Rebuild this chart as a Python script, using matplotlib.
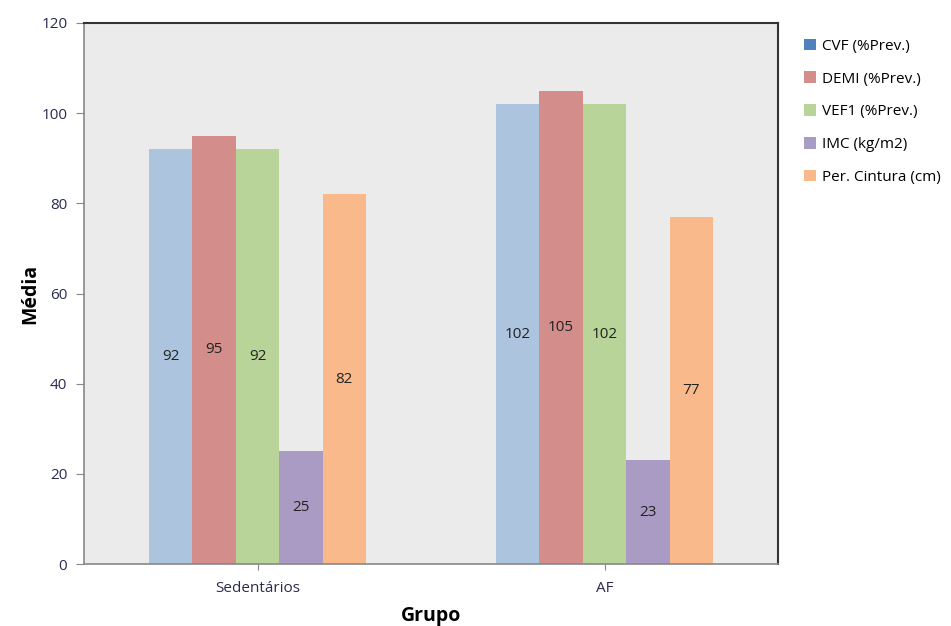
import matplotlib.pyplot as plt
import numpy as np
from matplotlib.patches import Patch

plt.rcParams['font.family'] = ['Open Sans', 'DejaVu Sans']

grupos = ["Sedentários", "AF"]
series = ["CVF (%Prev.)", "DEMI (%Prev.)", "VEF1 (%Prev.)", "IMC (kg/m2)", "Per. Cintura (cm)"]
cvf = [92, 102]
demi = [95, 105]
vef1 = [92, 102]
imc = [25, 23]
cintura = [82, 77]
valores = [cvf, demi, vef1, imc, cintura]

cores_barras = ["#adc4de", "#d38d8b", "#b9d498", "#a99bc4", "#f9b98b"]
cores_legenda = ["#4f81bd", "#d38d8b", "#b9d498", "#a99bc4", "#f9b98b"]

fig = plt.figure(figsize=(9.51, 6.26), dpi=100)
ax = fig.add_axes([84 / 951, 1 - 564 / 626, (778 - 84) / 951, (564 - 23) / 626])
ax.set_facecolor("#ebebeb")

x = np.arange(len(grupos))
w = 0.125
for i, (vals, cor) in enumerate(zip(valores, cores_barras)):
    pos = x + (i - 2) * w
    ax.bar(pos, vals, width=w, color=cor, edgecolor="none")
    for p, v in zip(pos, vals):
        ax.text(p, v / 2, str(v), ha="center", va="center", fontsize=11, color="#222222")

ax.set_xlim(-0.5, 1.5)
ax.set_ylim(0, 120)
ax.set_yticks(range(0, 121, 20))
ax.set_xticks(x)
ax.set_xticklabels(grupos)
ax.tick_params(axis="both", colors="#888888", labelcolor="#2b2b50", labelsize=11)
ax.tick_params(axis="y", length=6, pad=6)
ax.tick_params(axis="x", length=4, pad=8)

for s in ["left", "bottom"]:
    ax.spines[s].set_color("#888888")
    ax.spines[s].set_linewidth(1.2)
for s in ["top", "right"]:
    ax.spines[s].set_color("#333333")
    ax.spines[s].set_linewidth(1.5)

ax.set_ylabel("Média", fontsize=14, fontweight="bold", va="center")
ax.yaxis.set_label_coords(-0.078, 0.5)
ax.set_xlabel("Grupo", fontsize=14, fontweight="bold", va="center")
ax.xaxis.set_label_coords(0.5, -0.097)

handles = [Patch(facecolor=c, edgecolor="none") for c in cores_legenda]
fig.legend(handles, series, loc="upper left", bbox_to_anchor=(790 / 951, 1 - 25 / 626),
           frameon=False, fontsize=11, handlelength=0.8, handleheight=0.8,
           handletextpad=0.4, labelspacing=1.15)

fig.savefig("out.png", dpi=100)
